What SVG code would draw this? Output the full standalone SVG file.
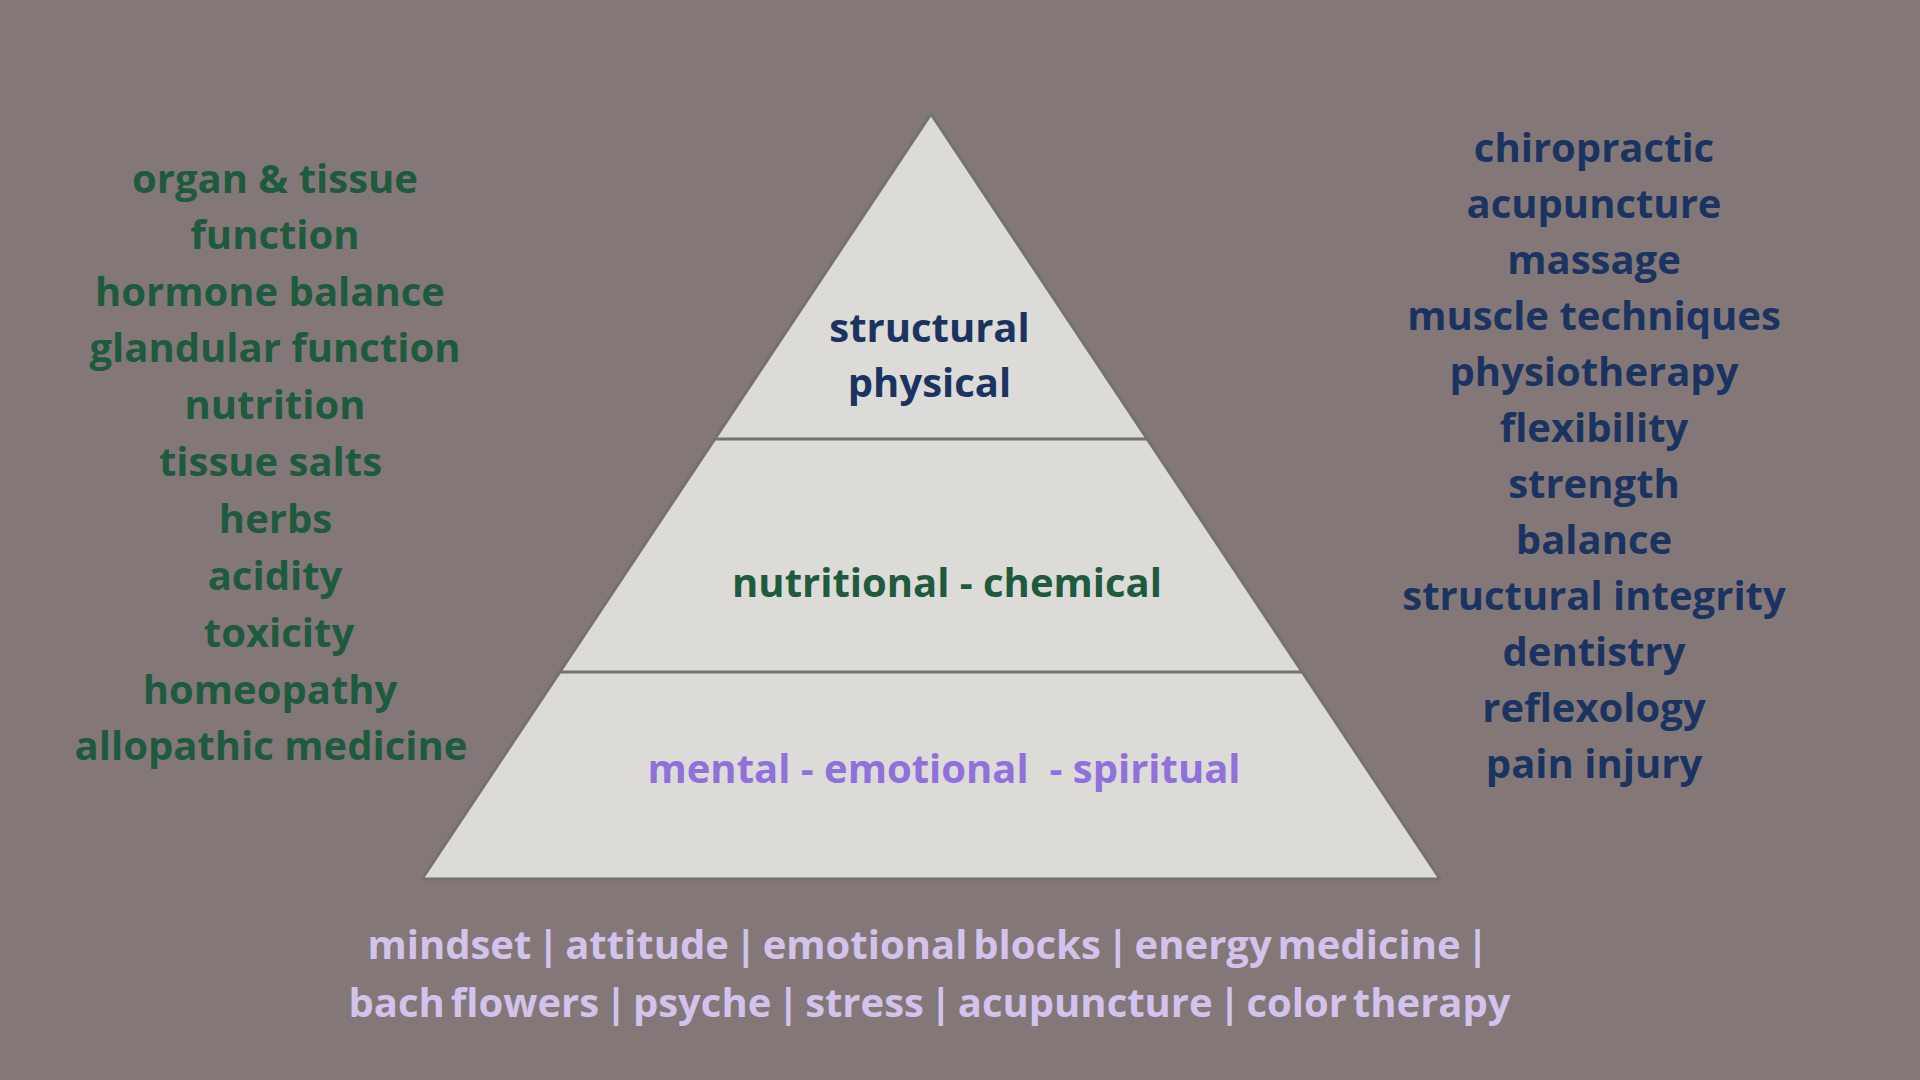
<svg xmlns="http://www.w3.org/2000/svg" width="1920" height="1080" viewBox="0 0 1920 1080">
<style>
text{font-family:"Open Sans","Liberation Sans",sans-serif;font-weight:700;font-size:40px;text-anchor:middle}
.g{fill:#1e5a3e}
.n{fill:#1b3360}
.p{fill:#9071dc}
.l{fill:#d3c3ec;word-spacing:-4.5px}
.edge{stroke:#74726f;stroke-width:3;fill:none}
</style>
<rect width="1920" height="1080" fill="#837877"/>
<g id="pyramid">
<polygon points="931,114 1440,879 422,879" fill="#dcdbd7" stroke="#74726f" stroke-width="3" stroke-linejoin="round"/>
</g>
<g id="connectors">
<line class="edge" x1="715" y1="439" x2="1147" y2="439"/>
<line class="edge" x1="560" y1="672" x2="1302" y2="672"/>
</g>
<g id="tier-structural">
<text class="n" x="929.5" y="342">structural</text>
<text class="n" x="929.5" y="397">physical</text>
</g>
<g id="tier-nutritional">
<text class="g" x="947" y="597">nutritional - chemical</text>
</g>
<g id="tier-mental">
<text class="p" x="944" y="783" xml:space="preserve">mental - emotional  - spiritual</text>
</g>
<g id="left-list">
<text class="g" x="275" y="193">organ &amp; tissue</text>
<text class="g" x="275" y="249">function</text>
<text class="g" x="270" y="306">hormone balance</text>
<text class="g" x="275" y="362">glandular function</text>
<text class="g" x="275" y="419">nutrition</text>
<text class="g" x="270.5" y="476">tissue salts</text>
<text class="g" x="275.5" y="533">herbs</text>
<text class="g" x="275" y="590">acidity</text>
<text class="g" x="279" y="647">toxicity</text>
<text class="g" x="270" y="704">homeopathy</text>
<text class="g" x="271" y="760">allopathic medicine</text>
</g>
<g id="right-list">
<text class="n" x="1594" y="162">chiropractic</text>
<text class="n" x="1594" y="218">acupuncture</text>
<text class="n" x="1594" y="274">massage</text>
<text class="n" x="1594" y="330">muscle techniques</text>
<text class="n" x="1594" y="386">physiotherapy</text>
<text class="n" x="1594" y="442">flexibility</text>
<text class="n" x="1594" y="498">strength</text>
<text class="n" x="1594" y="554">balance</text>
<text class="n" x="1594" y="610">structural integrity</text>
<text class="n" x="1594" y="666">dentistry</text>
<text class="n" x="1594" y="722">reflexology</text>
<text class="n" x="1594" y="778">pain injury</text>
</g>
<g id="bottom-list">
<text class="l" x="928" y="959">mindset | attitude | emotional blocks | energy medicine |</text>
<text class="l" x="929.5" y="1017">bach flowers | psyche | stress | acupuncture | color therapy</text>
</g>
</svg>
